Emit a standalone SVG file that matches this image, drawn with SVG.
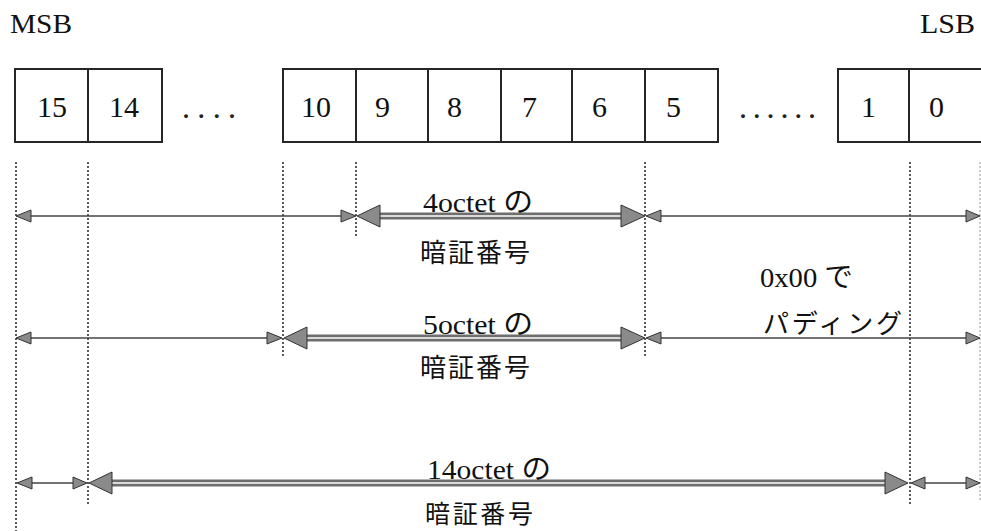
<svg xmlns="http://www.w3.org/2000/svg" width="981" height="531" viewBox="0 0 981 531">
<style>
.box{fill:#fff;stroke:#262626;stroke-width:2}
.num{font-family:"Liberation Serif",serif;font-size:30px;fill:#111}
.dots{font-family:"Liberation Serif",serif;font-size:24px;font-weight:bold;fill:#222}
.lat{font-family:"Liberation Serif","Noto Sans CJK JP",serif;font-size:28px;fill:#111}
.jp{font-family:"Noto Sans CJK JP",sans-serif;font-size:26px;fill:#111}
.vd{stroke:#222;stroke-width:1.5;stroke-dasharray:2,2;fill:none}
.thin{stroke:#444;stroke-width:1.5;fill:none}
.thickO{stroke:#6e6e6e;stroke-width:7;fill:none}
.thickI{stroke:#fff;stroke-width:1.6;fill:none}
.hs{fill:#8a8a8a;stroke:#333;stroke-width:1}
.hl{fill:#8a8a8a;stroke:#333;stroke-width:1}
</style>
<rect width="981" height="531" fill="#fff"/>

<g id="msb"><text class="lat" x="10" y="33" textLength="62" lengthAdjust="spacingAndGlyphs">MSB</text></g>
<g id="lsb"><text class="lat" x="920" y="33" textLength="55" lengthAdjust="spacingAndGlyphs">LSB</text></g>

<g id="b15"><rect class="box" x="15" y="69" width="73" height="73"/><text class="num" x="37" y="117">15</text></g>
<g id="b14"><rect class="box" x="88" y="69" width="74" height="73"/><text class="num" x="109" y="117">14</text></g>
<g id="dots1"><text class="dots" x="183" y="118" textLength="52">....</text></g>
<g id="b10"><rect class="box" x="283" y="69" width="73" height="73"/><text class="num" x="301" y="117">10</text></g>
<g id="b9"><rect class="box" x="356" y="69" width="72" height="73"/><text class="num" x="375" y="117">9</text></g>
<g id="b8"><rect class="box" x="428" y="69" width="73" height="73"/><text class="num" x="447" y="117">8</text></g>
<g id="b7"><rect class="box" x="501" y="69" width="71" height="73"/><text class="num" x="522" y="117">7</text></g>
<g id="b6"><rect class="box" x="572" y="69" width="73" height="73"/><text class="num" x="592" y="117">6</text></g>
<g id="b5"><rect class="box" x="645" y="69" width="73" height="73"/><text class="num" x="666" y="117">5</text></g>
<g id="dots2"><text class="dots" x="740" y="118" textLength="75">......</text></g>
<g id="b1"><rect class="box" x="838" y="69" width="71" height="73"/><text class="num" x="861" y="117">1</text></g>
<g id="b0"><rect class="box" x="909" y="69" width="76" height="73"/><text class="num" x="929" y="117">0</text></g>

<g id="guides">
<line class="vd" x1="16" y1="162" x2="16" y2="531"/>
<line class="vd" x1="88" y1="162" x2="88" y2="504"/>
<line class="vd" x1="283" y1="162" x2="283" y2="356"/>
<line class="vd" x1="356" y1="162" x2="356" y2="238"/>
<line class="vd" x1="645" y1="162" x2="645" y2="356"/>
<line class="vd" x1="910" y1="162" x2="910" y2="504"/>
<line class="vd" x1="980" y1="162" x2="980" y2="500" style="stroke:#bbb"/>
</g>

<g id="connectors">
<!-- row 1 -->
<line class="thin" x1="28" y1="216" x2="344" y2="216"/>
<polygon class="hs" points="16,216 31,210 31,222"/>
<polygon class="hs" points="356,216 341,210 341,222"/>
<line class="thickO" x1="376" y1="216" x2="624" y2="216"/>
<line class="thickI" x1="376" y1="216" x2="624" y2="216"/>
<polygon class="hl" points="357,216 380,205 380,227"/>
<polygon class="hl" points="645,216 621,205 621,227"/>
<line class="thin" x1="658" y1="216" x2="968" y2="216"/>
<polygon class="hs" points="646,216 661,210 661,222"/>
<polygon class="hs" points="980,216 966,210 966,222"/>
<!-- row 2 -->
<line class="thin" x1="28" y1="338" x2="270" y2="338"/>
<polygon class="hs" points="16,338 31,332 31,344"/>
<polygon class="hs" points="282,338 267,332 267,344"/>
<line class="thickO" x1="304" y1="338" x2="624" y2="338"/>
<line class="thickI" x1="304" y1="338" x2="624" y2="338"/>
<polygon class="hl" points="284,338 307,327 307,349"/>
<polygon class="hl" points="645,338 621,327 621,349"/>
<line class="thin" x1="658" y1="338" x2="968" y2="338"/>
<polygon class="hs" points="646,338 661,332 661,344"/>
<polygon class="hs" points="980,338 966,332 966,344"/>
<!-- row 3 -->
<line class="thin" x1="28" y1="483" x2="76" y2="483"/>
<polygon class="hs" points="17,483 32,477 32,489"/>
<polygon class="hs" points="87,483 73,477 73,489"/>
<line class="thickO" x1="109" y1="483" x2="887" y2="483"/>
<line class="thickI" x1="109" y1="483" x2="887" y2="483"/>
<polygon class="hl" points="89,483 112,472 112,494"/>
<polygon class="hl" points="908,483 885,472 885,494"/>
<line class="thin" x1="922" y1="483" x2="968" y2="483"/>
<polygon class="hs" points="911,483 925,477 925,489"/>
<polygon class="hs" points="980,483 966,477 966,489"/>
</g>

<g id="label4">
<text class="lat" x="423" y="212" textLength="110" lengthAdjust="spacingAndGlyphs">4octet の</text>
<text class="jp" x="420" y="262" textLength="110">暗証番号</text>
</g>
<g id="label5">
<text class="lat" x="423" y="334" textLength="110" lengthAdjust="spacingAndGlyphs">5octet の</text>
<text class="jp" x="420" y="377" textLength="110">暗証番号</text>
</g>
<g id="label14">
<text class="lat" x="427" y="479" textLength="124" lengthAdjust="spacingAndGlyphs">14octet の</text>
<text class="jp" x="425" y="523" textLength="108" style="font-size:25px">暗証番号</text>
</g>
<g id="padding">
<text class="lat" x="760" y="287" textLength="93" lengthAdjust="spacingAndGlyphs">0x00 で</text>
<text class="jp" x="763" y="333" textLength="139">パディング</text>
</g>
</svg>
